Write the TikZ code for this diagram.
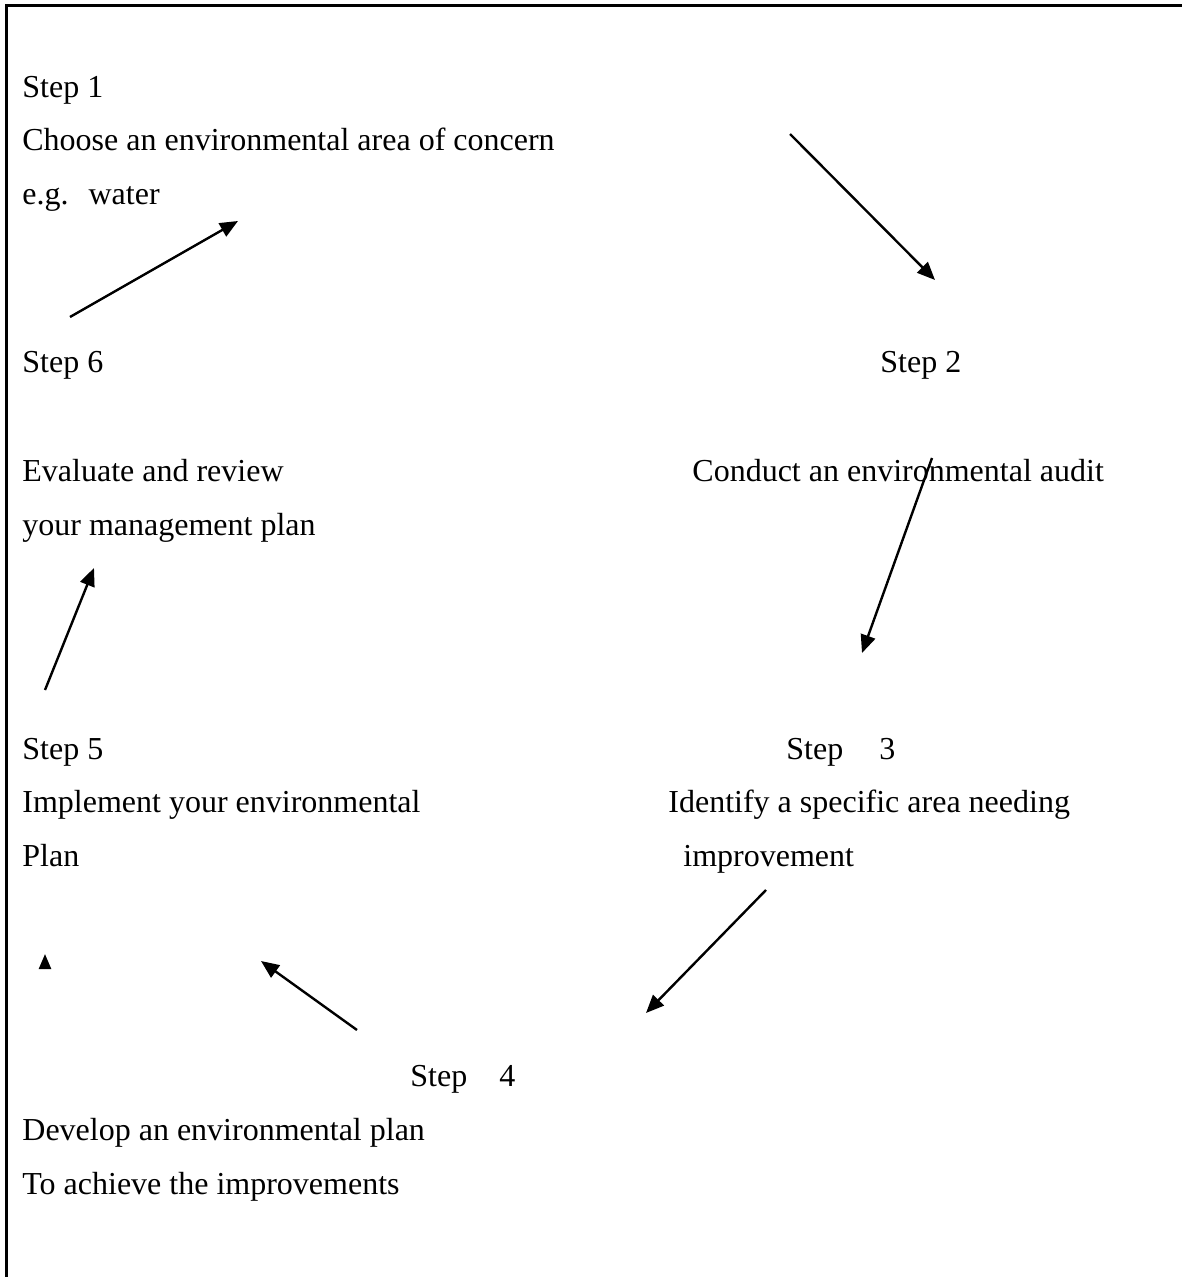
\documentclass[tikz,border=0pt]{standalone}
\usepackage{fontspec}
\setmainfont{Liberation Serif}
\usetikzlibrary{arrows.meta}
\tikzset{
    stepText/.style={anchor=base west, inner sep=0pt, font=\fontsize{16}{19}\selectfont}
}
\tikzset{
    stepArrow/.style={line width=1.2pt, -{Triangle[length=9pt,width=7.5pt]}}
}

\begin{document}
\begin{tikzpicture}[x=0.5pt,y=-0.5pt]
			\useasboundingbox (0,0) rectangle (1182,1277);
			\draw[line width=1.5pt] (6,1277) -- (6,6) -- (1182,6);
			\node[stepText] (stepOne) at (22,98) {Step 1};
			\node[stepText] (stepOneA) at (22,151) {Choose an environmental area of concern};
			\node[stepText] (stepOneB) at (22,205) {e.g.\hspace{10pt}water};
			\node[stepText] (stepSix) at (22,373) {Step 6};
			\node[stepText] (stepTwo) at (880,373) {Step 2};
			\node[stepText] (stepSixA) at (22,481) {Evaluate and review};
			\node[stepText] (stepSixB) at (22,535) {your management plan};
			\node[stepText] (stepTwoA) at (692,481) {Conduct an environmental audit};
			\node[stepText] (stepFive) at (22,759) {Step 5};
			\node[stepText] (stepFiveA) at (22,812) {Implement your environmental};
			\node[stepText] (stepFiveB) at (22,866) {Plan};
			\node[stepText] (stepThree) at (786,759) {Step\hspace{18pt}3};
			\node[stepText] (stepThreeA) at (668,812) {Identify a specific area needing};
			\node[stepText] (stepThreeB) at (683,866) {improvement};
			\node[stepText] (stepFour) at (410,1086) {Step\hspace{16pt}4};
			\node[stepText] (stepFourA) at (22,1140) {Develop an environmental plan};
			\node[stepText] (stepFourB) at (22,1194) {To achieve the improvements};
			\coordinate (arrowOneFrom) at (790,134);
			\coordinate (arrowOneTo) at (935,280);
			\coordinate (arrowTwoFrom) at (932,458);
			\coordinate (arrowTwoTo) at (862,653);
			\coordinate (arrowThreeFrom) at (766,890);
			\coordinate (arrowThreeTo) at (646,1013);
			\coordinate (arrowFourFrom) at (357,1030);
			\coordinate (arrowFourTo) at (261,961);
			\coordinate (arrowFiveFrom) at (45,969);
			\coordinate (arrowFiveTo) at (45,954);
			\coordinate (arrowSixFrom) at (45,690);
			\coordinate (arrowSixTo) at (94,568);
			\coordinate (arrowSevenFrom) at (70,317);
			\coordinate (arrowSevenTo) at (238,221);
			\draw[stepArrow] (arrowOneFrom) -- (arrowOneTo);
			\draw[stepArrow] (arrowTwoFrom) -- (arrowTwoTo);
			\draw[stepArrow] (arrowThreeFrom) -- (arrowThreeTo);
			\draw[stepArrow] (arrowFourFrom) -- (arrowFourTo);
			\draw[stepArrow, -{Triangle[length=7.5pt,width=6pt]}] (arrowFiveFrom) -- (arrowFiveTo);
			\draw[stepArrow] (arrowSixFrom) -- (arrowSixTo);
			\draw[stepArrow] (arrowSevenFrom) -- (arrowSevenTo);
		\end{tikzpicture}
\end{document}
